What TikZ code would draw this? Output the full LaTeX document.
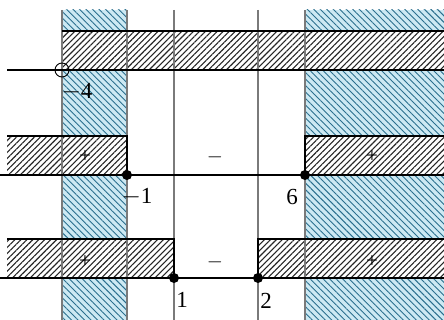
\documentclass[tikz,border=0pt]{standalone}
\usepackage{fontspec}
\setmainfont{Liberation Serif}
\usetikzlibrary{patterns.meta}
\definecolor{lblue}{HTML}{CDE9F3}
\definecolor{hblue}{HTML}{2A6F8E}
\definecolor{vgray}{HTML}{7A7A7A}
\tikzset{
  blueregion/.style={pattern={Lines[angle=-45,distance=4.6pt,line width=0.9pt]}, pattern color=hblue},
  bluebg/.style={fill=lblue},
  bandbg/.style={fill=white},
  bandhatch/.style={pattern={Lines[angle=45,distance=4.2pt,line width=1.1pt]}, pattern color=black!85},
  axis/.style={black, line width=1.1pt},
  edge/.style={black, line width=1.1pt},
  vline/.style={vgray, line width=1.4pt},
  dot/.style={circle, fill=black, inner sep=0pt, minimum size=10pt},
  hole/.style={circle, draw=black, line width=0.9pt, inner sep=0pt, minimum size=14pt},
  lab/.style={font=\fontsize{23}{26}\selectfont, inner sep=0pt},
  sgn/.style={font=\fontsize{21}{24}\selectfont, inner sep=0pt}
}
\begin{document}
\begin{tikzpicture}[x=1pt,y=-1pt]
\useasboundingbox (0,0) rectangle (444,320);
% blue regions
\fill[bluebg] (62,10) rectangle (127,320);
\fill[bluebg] (305,10) rectangle (444,320);
\fill[blueregion] (62,10) rectangle (127,320);
\fill[blueregion] (305,10) rectangle (444,320);
% black hatched bands
\foreach \a/\b/\c/\d in {62/31/444/70, 7/136/127/175, 305/136/444/175, 7/239/174/278, 258/239/444/278}{
  \fill[bandbg] (\a,\b) rectangle (\c,\d);
  \fill[bandhatch] (\a,\b) rectangle (\c,\d);
}
% vertical gray lines
\draw[vline] (62,10) -- (62,320);
\draw[vline] (127,10) -- (127,320);
\draw[vline] (305,10) -- (305,320);
\draw[vline] (174,10) -- (174,320);
\draw[vline] (258,10) -- (258,320);
% band edges
\draw[edge] (62,31) -- (444,31);
\draw[edge] (7,136) -- (127,136) -- (127,175);
\draw[edge] (444,136) -- (305,136) -- (305,175);
\draw[edge] (7,239) -- (174,239) -- (174,278);
\draw[edge] (444,239) -- (258,239) -- (258,278);
% axes
\coordinate (a1s) at (7,70);   \coordinate (a1e) at (444,70);
\coordinate (a2s) at (0,175);  \coordinate (a2e) at (444,175);
\coordinate (a3s) at (0,278);  \coordinate (a3e) at (444,278);
\draw[axis] (a1s) -- (a1e);
\draw[axis] (a2s) -- (a2e);
\draw[axis] (a3s) -- (a3e);
% points
\node[hole] (pm4) at (62,70) {};
\node[dot] (pm1) at (127,175) {};
\node[dot] (p6) at (305,175) {};
\node[dot] (p1) at (174,278) {};
\node[dot] (p2) at (258,278) {};
% labels
\node[lab] (lm4) at (77,92) {$-$4};
\node[lab] (lm1) at (137,197) {$-$1};
\node[lab] (l6) at (292,197) {6};
\node[lab] (l1) at (182,300) {1};
\node[lab] (l2) at (266,301) {2};
% signs
\node[sgn] (s1) at (85,157) {+};
\node[sgn] (s2) at (215,157) {$-$};
\node[sgn] (s3) at (372,157) {+};
\node[sgn] (s4) at (85,262) {+};
\node[sgn] (s5) at (215,262) {$-$};
\node[sgn] (s6) at (372,262) {+};
\end{tikzpicture}
\end{document}
